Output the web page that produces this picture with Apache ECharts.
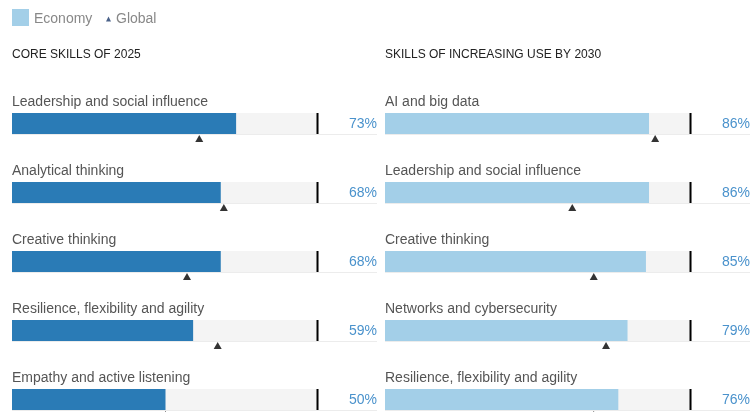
<!DOCTYPE html>
<html>
<head>
<meta charset="utf-8">
<script src="https://cdn.jsdelivr.net/npm/echarts@6/dist/echarts.min.js"></script>
<style>
html,body{margin:0;padding:0;background:#fff;overflow:hidden}
#wrap{width:754px;height:412px;overflow:hidden;position:relative}
#c{width:754px;height:434px}
</style>
</head>
<body>
<div id="wrap"><div id="c"></div></div>
<script>
// ---- data ----
const titleLeft = 'CORE SKILLS OF 2025';
const titleRight = 'SKILLS OF INCREASING USE BY 2030';
const skills2025 = ['Leadership and social influence', 'Analytical thinking', 'Creative thinking', 'Resilience, flexibility and agility', 'Empathy and active listening'];
const economy2025 = [73, 68, 68, 59, 50];
const global2025 = [61, 69, 57, 67, 50];
const skills2030 = ['AI and big data', 'Leadership and social influence', 'Creative thinking', 'Networks and cybersecurity', 'Resilience, flexibility and agility'];
const economy2030 = [86, 86, 85, 79, 76];
const global2030 = [88, 61, 68, 72, 68];
const maxValue = 100;

// ---- styles ----
const FONT = '"Liberation Sans", Arial, Helvetica, sans-serif';
const leftColor = '#2a7bb6';
const rightColor = '#a3cfe8';
const pctColor = '#4a92cc';
const BAR_H = 21;

function frameRender(params, api) {
  const idx = api.value(1);
  const c0 = api.coord([0, idx]);
  const c1 = api.coord([maxValue, idx]);
  const right = c1[0] + 58;
  const yb = c0[1] + BAR_H / 2 + 0.5;
  return {
    type: 'group',
    children: [
      { type: 'line', shape: { x1: c0[0], y1: yb, x2: right, y2: yb }, style: { stroke: '#ececec', lineWidth: 1 } },
      { type: 'rect', shape: { x: c1[0] - 2.5, y: c0[1] - BAR_H / 2, width: 2, height: BAR_H }, style: { fill: '#000' } },
      { type: 'text', style: { text: api.value(0) + '%', x: right, y: c0[1] + 0.5, align: 'right', verticalAlign: 'middle', fill: pctColor, font: '14px ' + FONT } }
    ]
  };
}

function panelSeries(i, eco, glob, color) {
  return [
    {
      type: 'bar', name: 'Economy', xAxisIndex: i, yAxisIndex: i,
      data: eco, barWidth: BAR_H, itemStyle: { color: color },
      showBackground: true, backgroundStyle: { color: '#f4f4f4' },
      label: { show: true, formatter: '{b}', position: [0, -11], verticalAlign: 'middle', align: 'left',
               color: '#555', fontSize: 14, fontFamily: FONT },
      z: 2
    },
    {
      type: 'custom', name: 'frame', xAxisIndex: i, yAxisIndex: i,
      data: eco.map((v, k) => [v, k]), renderItem: frameRender, z: 3, clip: false, silent: true
    },
    {
      type: 'scatter', name: 'Global', xAxisIndex: i, yAxisIndex: i,
      data: glob.map((v, k) => [v, k]), symbol: 'triangle', symbolSize: [8, 7], symbolOffset: [0, 15],
      itemStyle: { color: '#000' }, z: 4, clip: false
    }
  ];
}

const chart = echarts.init(document.getElementById('c'), null, { renderer: 'canvas' });
chart.setOption({
  animation: false,
  backgroundColor: '#fff',
  title: [
    { text: titleLeft, left: 12, top: 49, padding: 0, textStyle: { fontSize: 12, fontWeight: 'normal', color: '#222', fontFamily: FONT } },
    { text: titleRight, left: 385, top: 49, padding: 0, textStyle: { fontSize: 12, fontWeight: 'normal', color: '#222', fontFamily: FONT } }
  ],
  legend: [
    { left: 12, top: 9, padding: 0, itemWidth: 17, itemHeight: 17, icon: 'rect', selectedMode: false,
      data: [{ name: 'Economy', itemStyle: { color: rightColor } }],
      formatter: '{t|{name}}',
      textStyle: { fontSize: 14, color: '#888', fontFamily: FONT,
                   rich: { t: { fontSize: 14, color: '#888', fontFamily: FONT, padding: [3, 0, 0, 0] } } } },
    { left: 106, top: 12, padding: 0, itemWidth: 5, itemHeight: 5, icon: 'triangle', selectedMode: false,
      data: [{ name: 'Global', itemStyle: { color: '#1d3a6b' } }],
      textStyle: { fontSize: 14, color: '#888', fontFamily: FONT } }
  ],
  grid: [
    { left: 12, width: 307, top: 89, bottom: 0 },
    { left: 385, width: 307, top: 89, bottom: 0 }
  ],
  xAxis: [
    { type: 'value', gridIndex: 0, min: 0, max: maxValue, show: false },
    { type: 'value', gridIndex: 1, min: 0, max: maxValue, show: false }
  ],
  yAxis: [
    { type: 'category', gridIndex: 0, data: skills2025, inverse: true, show: false },
    { type: 'category', gridIndex: 1, data: skills2030, inverse: true, show: false }
  ],
  series: [].concat(
    panelSeries(0, economy2025, global2025, leftColor),
    panelSeries(1, economy2030, global2030, rightColor)
  )
});
</script>
</body>
</html>
